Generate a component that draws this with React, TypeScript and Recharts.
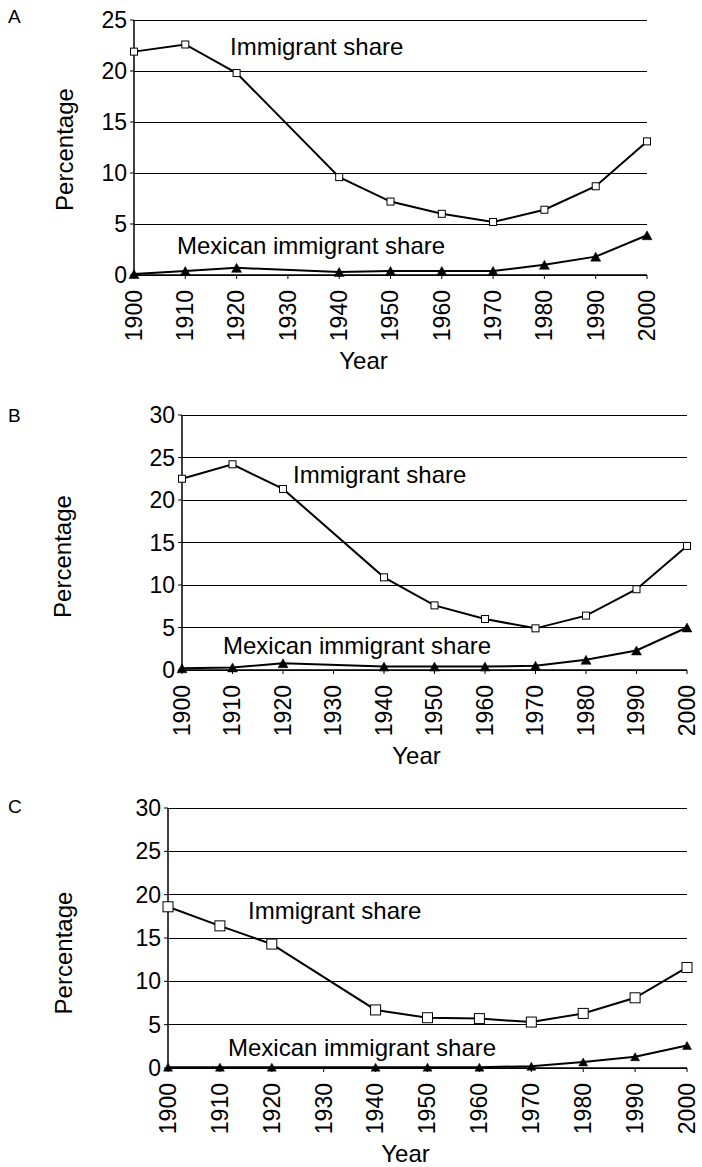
import { LineChart, Line, XAxis, YAxis, CartesianGrid, Label } from 'recharts'

const years = ['1900', '1910', '1920', '1930', '1940', '1950', '1960', '1970', '1980', '1990', '2000']

// panel A
const immigrantA = [21.9, 22.6, 19.8, null, 9.6, 7.2, 6.0, 5.2, 6.4, 8.7, 13.1]
const mexicanA = [0.1, 0.4, 0.7, null, 0.3, 0.4, 0.4, 0.4, 1.0, 1.8, 3.9]
const ticksA = [0, 5, 10, 15, 20, 25]

// panel B
const immigrantB = [22.5, 24.2, 21.3, null, 10.9, 7.6, 6.0, 4.9, 6.4, 9.5, 14.6]
const mexicanB = [0.2, 0.3, 0.8, null, 0.4, 0.4, 0.4, 0.5, 1.2, 2.3, 5.0]
const ticksB = [0, 5, 10, 15, 20, 25, 30]

// panel C
const immigrantC = [18.6, 16.4, 14.3, null, 6.7, 5.8, 5.7, 5.3, 6.3, 8.1, 11.6]
const mexicanC = [0.1, 0.1, 0.1, null, 0.1, 0.1, 0.1, 0.2, 0.7, 1.3, 2.6]
const ticksC = [0, 5, 10, 15, 20, 25, 30]

const toRows = (imm: (number | null)[], mex: (number | null)[]) =>
  years.map((year, i) => ({ year, immigrant: imm[i], mexican: mex[i] }))

const FONT = '"Liberation Sans", Arial, sans-serif'

const squareDot = (size: number) => (props: any) => {
  const { cx, cy, index } = props
  if (cx == null || cy == null || props.value == null) return <g key={`s${index}`} />
  return (
    <rect
      key={`s${index}`}
      x={cx - size / 2}
      y={cy - size / 2}
      width={size}
      height={size}
      fill="#fff"
      stroke="#000"
      strokeWidth={1}
    />
  )
}

const triangleDot = (w: number, h: number) => (props: any) => {
  const { cx, cy, index } = props
  if (cx == null || cy == null || props.value == null) return <g key={`t${index}`} />
  const pts = `${cx - w / 2},${cy + h / 2} ${cx + w / 2},${cy + h / 2} ${cx},${cy - h / 2}`
  return <polygon key={`t${index}`} points={pts} fill="#000" stroke="#000" strokeWidth={0.5} />
}

const XTick = (props: any) => {
  const { x, y, payload } = props
  return (
    <g transform={`translate(${x},${y + 11})`}>
      <text x={0} y={0} dy="0.34em" textAnchor="end" transform="rotate(-90)" fontSize={23} fill="#000">
        {payload.value}
      </text>
    </g>
  )
}

interface PanelProps {
  top: number
  height: number
  margin: { top: number; right: number; left: number; bottom: number }
  rows: any[]
  ticks: number[]
  max: number
  squareSize: number
  triW: number
  triH: number
  yTitleDist: number
  yTitleShift: number
  xTitleShift: number
}

function Panel(p: PanelProps) {
  return (
    <div style={{ position: 'absolute', left: 0, top: p.top }}>
      <LineChart width={702} height={p.height} data={p.rows} margin={p.margin}>
        <CartesianGrid vertical={false} stroke="#000" strokeWidth={1} shapeRendering="crispEdges" />
        <XAxis
          dataKey="year"
          interval={0}
          height={90}
          tick={<XTick />}
          tickSize={4}
          tickMargin={0}
          tickLine={{ stroke: '#000' }}
          axisLine={{ stroke: '#000', strokeWidth: 1.5 }}
        >
          <Label
            content={(lp: any) => {
              const vb = lp.viewBox
              return (
                <text
                  x={vb.x + vb.width / 2 + p.xTitleShift}
                  y={vb.y + 94}
                  textAnchor="middle"
                  fontSize={24}
                  fill="#000"
                >
                  Year
                </text>
              )
            }}
          />
        </XAxis>
        <YAxis
          type="number"
          domain={[0, p.max]}
          ticks={p.ticks}
          width={60}
          tickSize={4}
          tickMargin={3}
          tick={{ fontSize: 23, fill: '#000' }}
          tickLine={{ stroke: '#000' }}
          axisLine={{ stroke: '#000', strokeWidth: 1.5 }}
        >
          <Label
            content={(lp: any) => {
              const vb = lp.viewBox
              const bx = vb.x + vb.width - p.yTitleDist
              const cy = vb.y + vb.height / 2 + p.yTitleShift
              return (
                <text
                  x={bx}
                  y={cy}
                  transform={`rotate(-90 ${bx} ${cy})`}
                  textAnchor="middle"
                  fontSize={24}
                  fill="#000"
                >
                  Percentage
                </text>
              )
            }}
          />
        </YAxis>
        <Line
          dataKey="immigrant"
          stroke="#000"
          strokeWidth={2}
          connectNulls
          isAnimationActive={false}
          dot={squareDot(p.squareSize)}
          activeDot={false}
        />
        <Line
          dataKey="mexican"
          stroke="#000"
          strokeWidth={2}
          connectNulls
          isAnimationActive={false}
          dot={triangleDot(p.triW, p.triH)}
          activeDot={false}
        />
      </LineChart>
    </div>
  )
}

export default function App() {
  return (
    <div
      style={{
        position: 'absolute',
        left: 0,
        top: 0,
        width: 702,
        height: 1167,
        background: '#fff',
        fontFamily: FONT,
      }}
    >
      <Panel
        top={0}
        height={380}
        margin={{ top: 20, right: 55, left: 74, bottom: 15 }}
        rows={toRows(immigrantA, mexicanA)}
        ticks={ticksA}
        max={25}
        squareSize={7}
        triW={10}
        triH={9}
        yTitleDist={61}
        yTitleShift={2}
        xTitleShift={-27}
      />
      <Panel
        top={395}
        height={380}
        margin={{ top: 20, right: 15, left: 122, bottom: 15 }}
        rows={toRows(immigrantB, mexicanB)}
        ticks={ticksB}
        max={30}
        squareSize={7}
        triW={10}
        triH={9}
        yTitleDist={111}
        yTitleShift={14}
        xTitleShift={-18}
      />
      <Panel
        top={788}
        height={379}
        margin={{ top: 20, right: 15, left: 108, bottom: 9 }}
        rows={toRows(immigrantC, mexicanC)}
        ticks={ticksC}
        max={30}
        squareSize={10}
        triW={9}
        triH={8}
        yTitleDist={96}
        yTitleShift={15}
        xTitleShift={-22}
      />
      <svg
        width={702}
        height={1167}
        style={{ position: 'absolute', left: 0, top: 0, pointerEvents: 'none' }}
        fontFamily={FONT}
      >
        <text x={8} y={23} fontSize={19}>A</text>
        <text x={8} y={422} fontSize={19}>B</text>
        <text x={8} y={813} fontSize={19}>C</text>
        <text x={230} y={55} fontSize={24}>Immigrant share</text>
        <text x={177} y={254} fontSize={24}>Mexican immigrant share</text>
        <text x={293} y={483} fontSize={24}>Immigrant share</text>
        <text x={223} y={654} fontSize={24}>Mexican immigrant share</text>
        <text x={248} y={919} fontSize={24}>Immigrant share</text>
        <text x={228} y={1056} fontSize={24}>Mexican immigrant share</text>
      </svg>
    </div>
  )
}
